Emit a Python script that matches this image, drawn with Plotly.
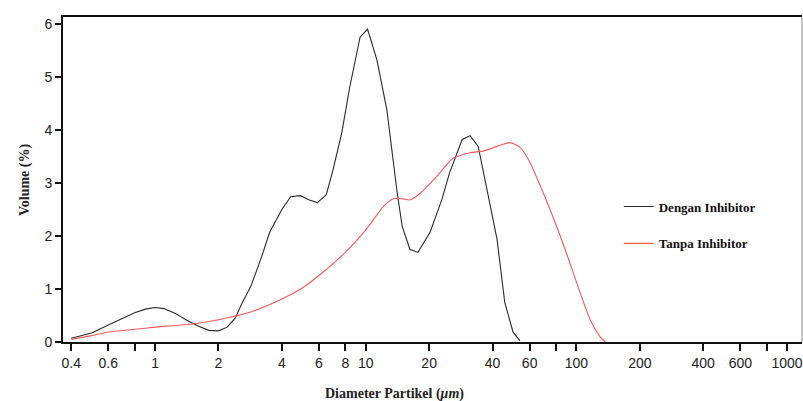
import plotly.graph_objects as go

# Particle size distribution data (diameter in um, volume in %)
dengan_x = [0.4, 0.45, 0.5, 0.6, 0.7, 0.8, 0.9, 1.0, 1.1, 1.25, 1.4, 1.6, 1.8, 2.0,
            2.2, 2.4, 2.6, 2.85, 3.2, 3.5, 4.0, 4.4, 4.9, 5.4, 5.9, 6.5, 7.0, 7.7,
            8.4, 9.4, 10.2, 11.3, 12.6, 14.1, 14.9, 16.2, 17.7, 20.2, 23, 25,
            28.7, 31.3, 34.2, 38, 42, 45.7, 50, 54]
dengan_y = [0.07, 0.12, 0.17, 0.32, 0.45, 0.55, 0.62, 0.65, 0.63, 0.54, 0.42, 0.30,
            0.22, 0.21, 0.28, 0.45, 0.75, 1.05, 1.6, 2.07, 2.5, 2.74, 2.76, 2.68,
            2.63, 2.78, 3.25, 3.95, 4.81, 5.75, 5.90, 5.32, 4.38, 2.82, 2.18, 1.75,
            1.69, 2.07, 2.69, 3.19, 3.82, 3.89, 3.69, 2.82, 1.94, 0.75, 0.19, 0.02]

tanpa_x = [0.4, 0.5, 0.6, 0.8, 1.0, 1.5, 2.0, 2.82, 4.0, 5.0, 5.94, 8.0, 9.9, 12.1,
           13.5, 15, 16.2, 18.1, 21.7, 25.9, 31.3, 36, 42, 48.5, 54, 60, 67, 75,
           84, 93, 104, 116, 129, 137]
tanpa_y = [0.05, 0.12, 0.19, 0.24, 0.28, 0.34, 0.42, 0.56, 0.81, 1.02, 1.24, 1.69,
           2.09, 2.55, 2.70, 2.70, 2.68, 2.80, 3.12, 3.46, 3.57, 3.60, 3.69, 3.76,
           3.67, 3.40, 2.97, 2.50, 1.99, 1.50, 0.94, 0.43, 0.11, 0.0]

x_tickvals = [0.4, 0.6, 0.8, 1, 2, 4, 6, 8, 10, 20, 40, 60, 80, 100, 200, 400, 600, 800, 1000]
x_ticktext = ['0.4', '0.6', '', '1', '2', '4', '6', '8', '10', '20', '40', '60', '',
              '100', '200', '400', '600', '', '1000']
y_tickvals = [0, 1, 2, 3, 4, 5, 6]

fig = go.Figure()

fig.add_trace(go.Scatter(
    x=dengan_x, y=dengan_y, mode='lines', name='<b>Dengan Inhibitor</b>',
    line=dict(color='#2a2a2a', width=1.1), legendgroup='a'
))
fig.add_trace(go.Scatter(
    x=tanpa_x, y=tanpa_y, mode='lines', name='<b>Tanpa Inhibitor</b>',
    line=dict(color='#f25a5a', width=1.1, shape='spline', smoothing=0.6), legendgroup='b'
))

# right border (thin grey)
fig.add_shape(type='line', xref='paper', yref='paper', x0=1, x1=1, y0=0, y1=1,
              line=dict(color='#888888', width=1))

# axis titles
fig.add_annotation(text='<b>Volume (%)</b>', xref='paper', yref='paper', x=-0.052, y=0.5,
                   textangle=-90, showarrow=False, xanchor='center', yanchor='middle',
                   font=dict(family='Liberation Serif', size=14, color='#222'))
fig.add_annotation(text='<b>Diameter Partikel (<i>μm</i>)</b>', xref='paper', yref='paper',
                   x=0.449, y=-0.13, showarrow=False, xanchor='center', yanchor='top',
                   font=dict(family='Liberation Serif', size=14, color='#222'))

fig.update_layout(
    width=803, height=401,
    margin=dict(l=63, r=1, t=17, b=59),
    plot_bgcolor='white', paper_bgcolor='white',
    showlegend=True,
    legend=dict(x=0.752, y=0.36, xanchor='left', yanchor='middle',
                bgcolor='rgba(0,0,0,0)', tracegroupgap=17, itemwidth=30,
                font=dict(family='Liberation Serif', size=13, color='#111')),
    xaxis=dict(
        type='log', range=[-0.437, 3.071],
        tickvals=x_tickvals, ticktext=x_ticktext,
        ticks='outside', ticklen=7, tickwidth=1.5, tickcolor='#111',
        showline=True, linecolor='#111', linewidth=2, mirror=True,
        showgrid=False, zeroline=False,
        tickfont=dict(family='Liberation Sans', size=14, color='#222')
    ),
    yaxis=dict(
        range=[0, 6.13], tickvals=y_tickvals,
        ticks='outside', ticklen=6, tickwidth=1.5, tickcolor='#111',
        showline=True, linecolor='#111', linewidth=2,
        showgrid=False, zeroline=False,
        tickfont=dict(family='Liberation Sans', size=14, color='#222')
    )
)

fig.write_html("out.html", config={'displayModeBar': False},
               post_script="document.body.style.margin='0';")
